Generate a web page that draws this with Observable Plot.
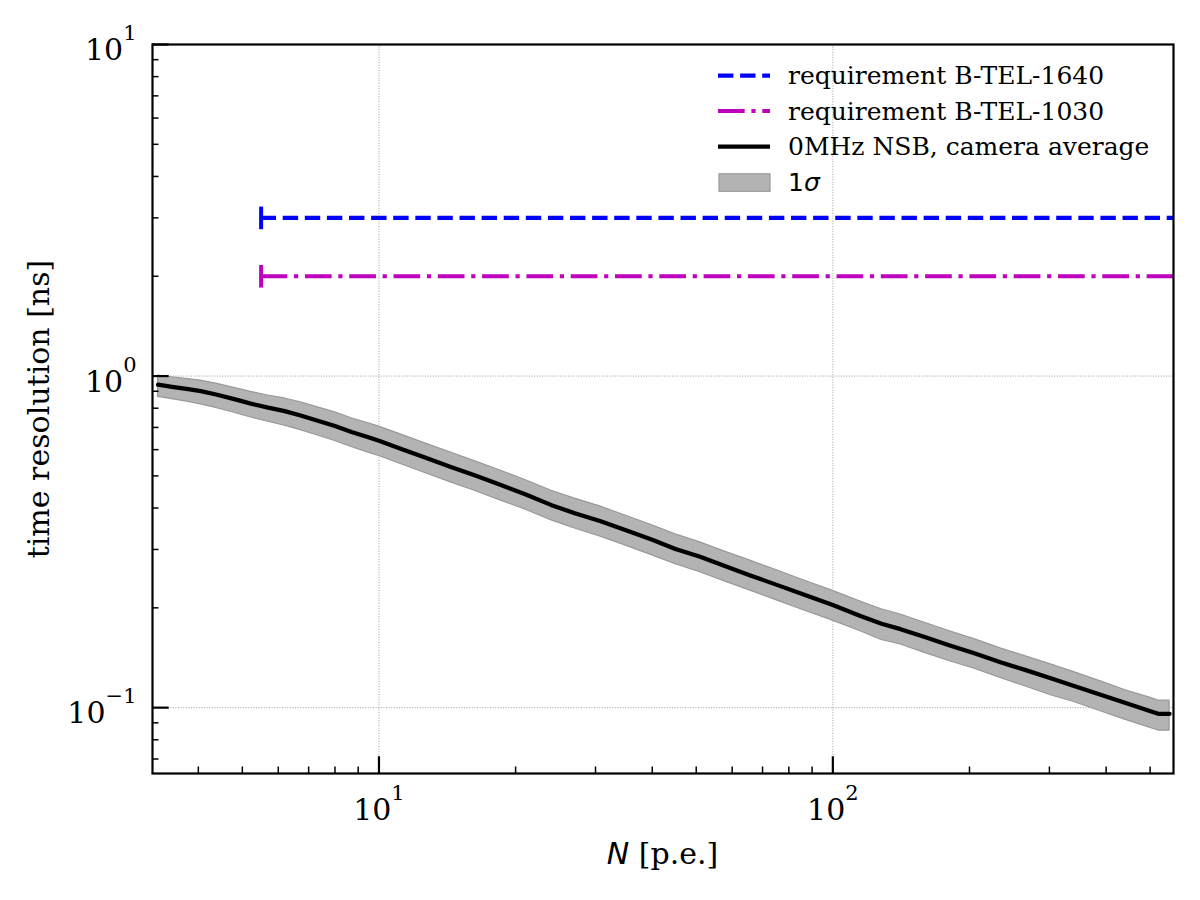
<!DOCTYPE html>
<html><head><meta charset="utf-8">
<script src="https://cdn.jsdelivr.net/npm/d3@7"></script>
<script src="https://cdn.jsdelivr.net/npm/@observablehq/plot@0.6"></script>
<style>
html,body{margin:0;padding:0;background:#fff;}
#chart{position:relative;width:1200px;height:900px;}
</style></head><body><div id="chart"></div>
<script>
// ---- data ----
const peN = [3.26, 3.5, 3.8, 4.05, 4.4, 4.8, 5.22, 5.7, 6.2, 6.72, 7.3, 8.0, 8.7, 9.4, 10,
  11.2, 12.5, 14.4, 16.3, 18.5, 21, 24, 27, 30.8, 35, 40, 45, 51, 58, 66, 75, 85, 100,
  115, 128, 141, 160, 181, 205, 234, 265, 302, 340, 389, 440, 501, 521, 552];
const meanRes = [0.942, 0.928, 0.913, 0.901, 0.878, 0.852, 0.826, 0.803, 0.784, 0.761, 0.735, 0.707, 0.678, 0.656, 0.638,
  0.603, 0.571, 0.532, 0.501, 0.470, 0.440, 0.408, 0.386, 0.365, 0.343, 0.321, 0.301, 0.285, 0.267, 0.250, 0.235, 0.221, 0.204,
  0.189, 0.179, 0.1725, 0.163, 0.154, 0.146, 0.137, 0.130, 0.1226, 0.1162, 0.1094, 0.1034, 0.0976, 0.0958, 0.0958];
const lowRes = [0.866, 0.852, 0.836, 0.822, 0.800, 0.775, 0.750, 0.728, 0.709, 0.687, 0.663, 0.637, 0.611, 0.590, 0.574,
  0.542, 0.513, 0.478, 0.450, 0.422, 0.396, 0.367, 0.347, 0.328, 0.308, 0.288, 0.271, 0.256, 0.240, 0.225, 0.211, 0.198, 0.183,
  0.170, 0.160, 0.155, 0.146, 0.138, 0.131, 0.123, 0.116, 0.109, 0.104, 0.0975, 0.092, 0.0869, 0.0853, 0.0853];
const highRes = [1.003, 0.992, 0.979, 0.969, 0.947, 0.921, 0.896, 0.874, 0.856, 0.834, 0.806, 0.777, 0.746, 0.723, 0.704,
  0.666, 0.630, 0.588, 0.553, 0.519, 0.486, 0.451, 0.427, 0.404, 0.379, 0.355, 0.333, 0.315, 0.295, 0.277, 0.260, 0.244, 0.225,
  0.209, 0.198, 0.191, 0.180, 0.170, 0.161, 0.151, 0.143, 0.135, 0.128, 0.120, 0.113, 0.107, 0.105, 0.105];

const reqNames = ["requirement B-TEL-1640", "requirement B-TEL-1030"];
const reqValues = [3, 2];
const reqStart = [5.5, 5.5];
const reqColors = ["#0000ff", "#bf00bf"];
const seriesName = "0MHz NSB, camera average";
const bandName = "1σ";

const xMajor = [10, 100];
const xMinor = [4, 5, 6, 7, 8, 9, 20, 30, 40, 50, 60, 70, 80, 90, 200, 300, 400, 500];
const yMajor = [0.1, 1, 10];
const yMinor = [0.07, 0.08, 0.09, 0.2, 0.3, 0.4, 0.5, 0.6, 0.7, 0.8, 0.9, 2, 3, 4, 5, 6, 7, 8, 9];
const xDomain = [3.17, 563];
const yDomain = [0.0633, 10];

// ---- build ----
const rows = peN.map((n, i) => ({N: n, mean: meanRes[i], lo: lowRes[i], hi: highRes[i]}));
const reqs = reqNames.map((name, i) => ({name, y: reqValues[i], x1: reqStart[i], x2: xDomain[1], color: reqColors[i]}));
const dashes = ["15.4,6.7", "26.7,6.7,4.2,6.7"];
const vbar = {draw(context, size) { const r = Math.sqrt(size / Math.PI); context.moveTo(0, -r); context.lineTo(0, r); }};
const expFmt = d => "10^" + Math.round(Math.log10(d));
const gridStyle = {stroke: "#777", strokeWidth: 0.7, strokeOpacity: 1, strokeDasharray: "1,1.6"};

const marks = [
  Plot.gridX(xMajor, gridStyle),
  Plot.gridY(yMajor, gridStyle),
  Plot.areaY(rows, {x: "N", y1: "lo", y2: "hi", fill: "#b3b3b3", stroke: "#999", strokeWidth: 1.2}),
  Plot.line(rows, {x: "N", y: "mean", stroke: "black", strokeWidth: 4.2}),
];
reqs.forEach((r, i) => {
  marks.push(Plot.ruleY([r], {x1: "x1", x2: "x2", y: "y", stroke: r.color, strokeWidth: 4.2, strokeDasharray: dashes[i]}));
  marks.push(Plot.dot([r], {x: "x1", y: "y", symbol: vbar, r: 11.3, stroke: r.color, strokeWidth: 4, fill: "none"}));
});
marks.push(
  Plot.frame({stroke: "black", strokeWidth: 2.2}),
  Plot.axisX(xMinor, {anchor: "bottom", tickSize: -6.5, tickFormat: () => "", strokeWidth: 1.5, label: null}),
  Plot.axisX(xMajor, {anchor: "bottom", tickSize: -16.7, tickPadding: 42, tickFormat: expFmt, strokeWidth: 2.2, label: null, fontSize: 30}),
  Plot.axisY(yMinor, {anchor: "left", tickSize: -6.5, tickFormat: () => "", strokeWidth: 1.5, label: null}),
  Plot.axisY(yMajor, {anchor: "left", tickSize: -16.7, tickPadding: 32.7, tickFormat: expFmt, strokeWidth: 2.2, label: null, fontSize: 30})
);

const chart = Plot.plot({
  width: 1200, height: 900,
  marginLeft: 152, marginRight: 27, marginTop: 44, marginBottom: 127,
  style: {fontFamily: "DejaVu Serif", fontSize: "30px", background: "white", color: "black"},
  x: {type: "log", domain: xDomain},
  y: {type: "log", domain: yDomain},
  marks
});
document.getElementById("chart").appendChild(chart);

// superscript exponents in tick labels
const svg = d3.select(chart);
svg.selectAll('g[aria-label="x-axis tick label"] text, g[aria-label="y-axis tick label"] text').each(function () {
  const t = this.textContent;
  if (!t.includes("^")) return;
  const [base, exp] = t.split("^");
  const el = d3.select(this);
  el.text(base);
  el.append("tspan").attr("dy", -20).attr("font-size", "21px").text(exp.replace("-", "\u2212"));
});
svg.selectAll('g[aria-label="y-axis tick label"] text').attr("y", "0.52em");

// axis labels
const xl = svg.append("text").attr("x", 662.5).attr("y", 864).attr("text-anchor", "middle")
  .attr("font-family", "DejaVu Serif").attr("font-size", 30).attr("fill", "black");
xl.append("tspan").attr("font-family", "DejaVu Sans").attr("font-style", "oblique").text("N");
xl.append("tspan").text(" [p.e.]");
svg.append("text").attr("transform", "translate(49,409) rotate(-90)").attr("text-anchor", "middle")
  .attr("font-family", "DejaVu Serif").attr("font-size", 30).attr("fill", "black").text("time resolution [ns]");

// legend
const lg = svg.append("g").attr("font-family", "DejaVu Serif").attr("font-size", 25)
  .attr("fill", "black").attr("text-anchor", "start");
const rowsY = [75.7, 111, 146.7, 182.3];
const items = [
  {label: reqNames[0], type: "line", color: reqColors[0], dash: dashes[0]},
  {label: reqNames[1], type: "line", color: reqColors[1], dash: dashes[1]},
  {label: seriesName, type: "line", color: "black", dash: null},
  {label: bandName, type: "patch"}
];
items.forEach((it, i) => {
  const y = rowsY[i];
  if (it.type === "line") {
    lg.append("line").attr("x1", 718).attr("x2", 770).attr("y1", y).attr("y2", y)
      .attr("stroke", it.color).attr("stroke-width", 4.2).attr("stroke-dasharray", it.dash);
  } else {
    lg.append("rect").attr("x", 719).attr("y", y - 8.5).attr("width", 51).attr("height", 17.5)
      .attr("fill", "#b3b3b3").attr("stroke", "#999").attr("stroke-width", 1.2);
  }
  const tx = lg.append("text").attr("x", 788).attr("y", y).attr("dy", "0.35em").attr("text-anchor", "start");
  if (it.type === "patch") {
    tx.attr("font-family", "DejaVu Sans");
    tx.append("tspan").text("1");
    tx.append("tspan").attr("font-style", "oblique").text("σ");
  } else {
    tx.text(it.label);
  }
});
</script>
</body></html>
